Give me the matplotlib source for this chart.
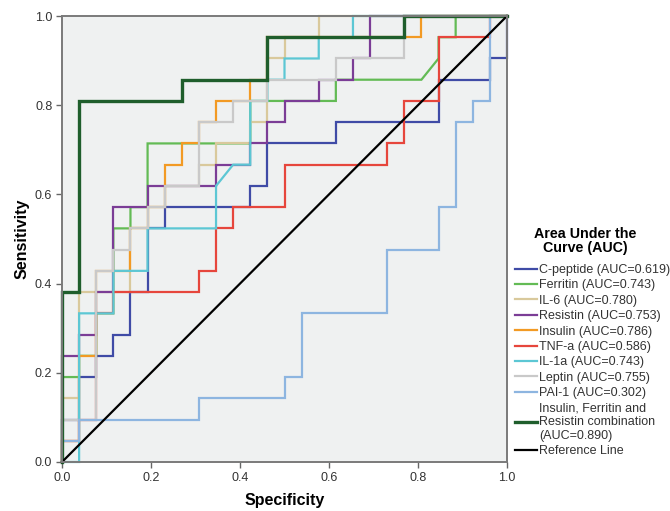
import numpy as np
import matplotlib
matplotlib.use("Agg")
import matplotlib.pyplot as plt

plt.rcParams['font.family'] = ['Liberation Sans', 'DejaVu Sans']

N_NEG = 26
N_POS = 21

cpep_fp = [0, 0, 1, 1, 2, 2, 3, 3, 4, 4, 5, 5, 6, 6, 11, 11, 12, 12, 16, 16, 22, 22, 25, 25, 26, 26]
cpep_tp = [0, 2, 2, 4, 4, 5, 5, 6, 6, 8, 8, 11, 11, 12, 12, 13, 13, 15, 15, 16, 16, 18, 18, 19, 19, 21]

ferr_fp = [0, 0, 1, 1, 2, 2, 3, 3, 4, 4, 5, 5, 11, 11, 16, 16, 21, 22, 22, 23, 23, 26]
ferr_tp = [0, 4, 4, 5, 5, 7, 7, 11, 11, 12, 12, 15, 15, 17, 17, 18, 18, 19, 20, 20, 21, 21]

il6_fp = [0, 0, 1, 1, 4, 4, 5, 5, 6, 6, 8, 8, 9, 9, 11, 11, 12, 12, 13, 13, 15, 15, 26]
il6_tp = [0, 3, 3, 8, 8, 11, 11, 12, 12, 13, 13, 14, 14, 15, 15, 16, 16, 19, 19, 20, 20, 21, 21]

resi_fp = [0, 0, 1, 1, 2, 2, 3, 3, 5, 5, 9, 9, 11, 11, 12, 12, 13, 13, 15, 15, 17, 17, 18, 18, 26]
resi_tp = [0, 5, 5, 6, 6, 8, 8, 12, 12, 13, 13, 14, 14, 15, 15, 16, 16, 17, 17, 18, 18, 19, 19, 21, 21]

insu_fp = [0, 0, 1, 1, 2, 2, 4, 4, 5, 5, 6, 6, 7, 7, 8, 8, 9, 9, 11, 11, 12, 12, 21, 21, 26]
insu_tp = [0, 1, 1, 5, 5, 9, 9, 11, 11, 12, 12, 14, 14, 15, 15, 16, 16, 17, 17, 18, 18, 20, 20, 21, 21]

tnfa_fp = [0, 0, 1, 1, 2, 2, 3, 3, 8, 8, 9, 9, 10, 10, 13, 13, 19, 19, 20, 20, 22, 22, 25, 25, 26]
tnfa_tp = [0, 1, 1, 2, 2, 7, 7, 8, 8, 9, 9, 11, 11, 12, 12, 14, 14, 15, 15, 17, 17, 20, 20, 21, 21]

il1a_fp = [0, 1, 1, 3, 3, 5, 5, 9, 9, 10, 11, 11, 12, 12, 13, 13, 15, 15, 17, 17, 26]
il1a_tp = [0, 0, 7, 7, 9, 9, 11, 11, 13, 14, 14, 17, 17, 18, 18, 19, 19, 20, 20, 21, 21]

lept_fp = [0, 0, 2, 2, 3, 3, 4, 4, 5, 5, 6, 6, 8, 8, 10, 10, 12, 12, 16, 16, 20, 20, 26]
lept_tp = [0, 2, 2, 9, 9, 10, 10, 11, 11, 12, 12, 13, 13, 16, 16, 17, 17, 18, 18, 19, 19, 21, 21]

pai1_fp = [0, 0, 1, 1, 8, 8, 13, 13, 14, 14, 19, 19, 22, 22, 23, 23, 24, 24, 25, 25, 26]
pai1_tp = [0, 1, 1, 2, 2, 3, 3, 4, 4, 7, 7, 10, 10, 12, 12, 16, 16, 17, 17, 21, 21]

comb_fp = [0, 0, 1, 1, 7, 7, 12, 12, 20, 20, 26]
comb_tp = [0, 8, 8, 17, 17, 18, 18, 20, 20, 21, 21]

labels = ["C-peptide (AUC=0.619)", "Ferritin (AUC=0.743)", "IL-6 (AUC=0.780)",
          "Resistin (AUC=0.753)", "Insulin (AUC=0.786)", "TNF-a (AUC=0.586)",
          "IL-1a (AUC=0.743)", "Leptin (AUC=0.755)", "PAI-1 (AUC=0.302)",
          "Insulin, Ferritin and\nResistin combination\n(AUC=0.890)"]
colors = ["#3f4ba6", "#63bb55", "#d9c99c", "#7b3d96", "#f29a24", "#e6463c",
          "#5cc7d4", "#c9c9c9", "#8db5e0", "#1f5e2c"]
curves = [(cpep_fp, cpep_tp), (ferr_fp, ferr_tp), (il6_fp, il6_tp),
          (resi_fp, resi_tp), (insu_fp, insu_tp), (tnfa_fp, tnfa_tp),
          (il1a_fp, il1a_tp), (lept_fp, lept_tp), (pai1_fp, pai1_tp),
          (comb_fp, comb_tp)]

fig = plt.figure(figsize=(6.7, 5.11), dpi=100)
ax = fig.add_axes([62 / 670, 1 - 462 / 511, 445 / 670, 446 / 511])
ax.set_facecolor("#eff1f1")

for (fp, tp), lab, col in zip(curves, labels, colors):
    lw = 2.4 if lab.startswith("Insulin, ") else 1.6
    ax.plot(np.array(fp) / N_NEG, np.array(tp) / N_POS, color=col, lw=lw,
            label=lab, clip_on=False, solid_joinstyle="miter")
ax.plot([0, 1], [0, 1], color="black", lw=1.6, label="Reference Line", clip_on=False)

ax.set_xlim(0, 1)
ax.set_ylim(0, 1)
ticks = np.arange(0, 1.01, 0.2)
ax.set_xticks(ticks)
ax.set_yticks(ticks)
ax.set_xticklabels([f"{t:.1f}" for t in ticks])
ax.set_yticklabels([f"{t:.1f}" for t in ticks])
ax.tick_params(length=4, width=1.0, color="#666666", labelsize=9,
               labelcolor="#333333", pad=3)
for sp in ax.spines.values():
    sp.set_color("#7a7a7a")
    sp.set_linewidth(1.4)

ax.set_xlabel("Specificity", fontsize=11.5, fontweight="bold", labelpad=7)
ax.set_ylabel("Sensitivity", fontsize=11.5, fontweight="bold", labelpad=4)

# legend title as its own text so the gap to the entries can be matched
fig.text(585 / 670, 1 - 241 / 511, "Area Under the\nCurve (AUC)", ha="center",
         va="center", fontsize=10.3, fontweight="bold", linespacing=1.05)

leg = ax.legend(loc="upper left", bbox_to_anchor=(515 / 670, 1 - 264 / 511),
                bbox_transform=fig.transFigure, frameon=False, fontsize=9,
                borderpad=0, borderaxespad=0, handlelength=1.75,
                handletextpad=0.2, labelspacing=0.27)
for t in leg.get_texts():
    t.set_color("#333333")

fig.savefig("out.png", dpi=100)
